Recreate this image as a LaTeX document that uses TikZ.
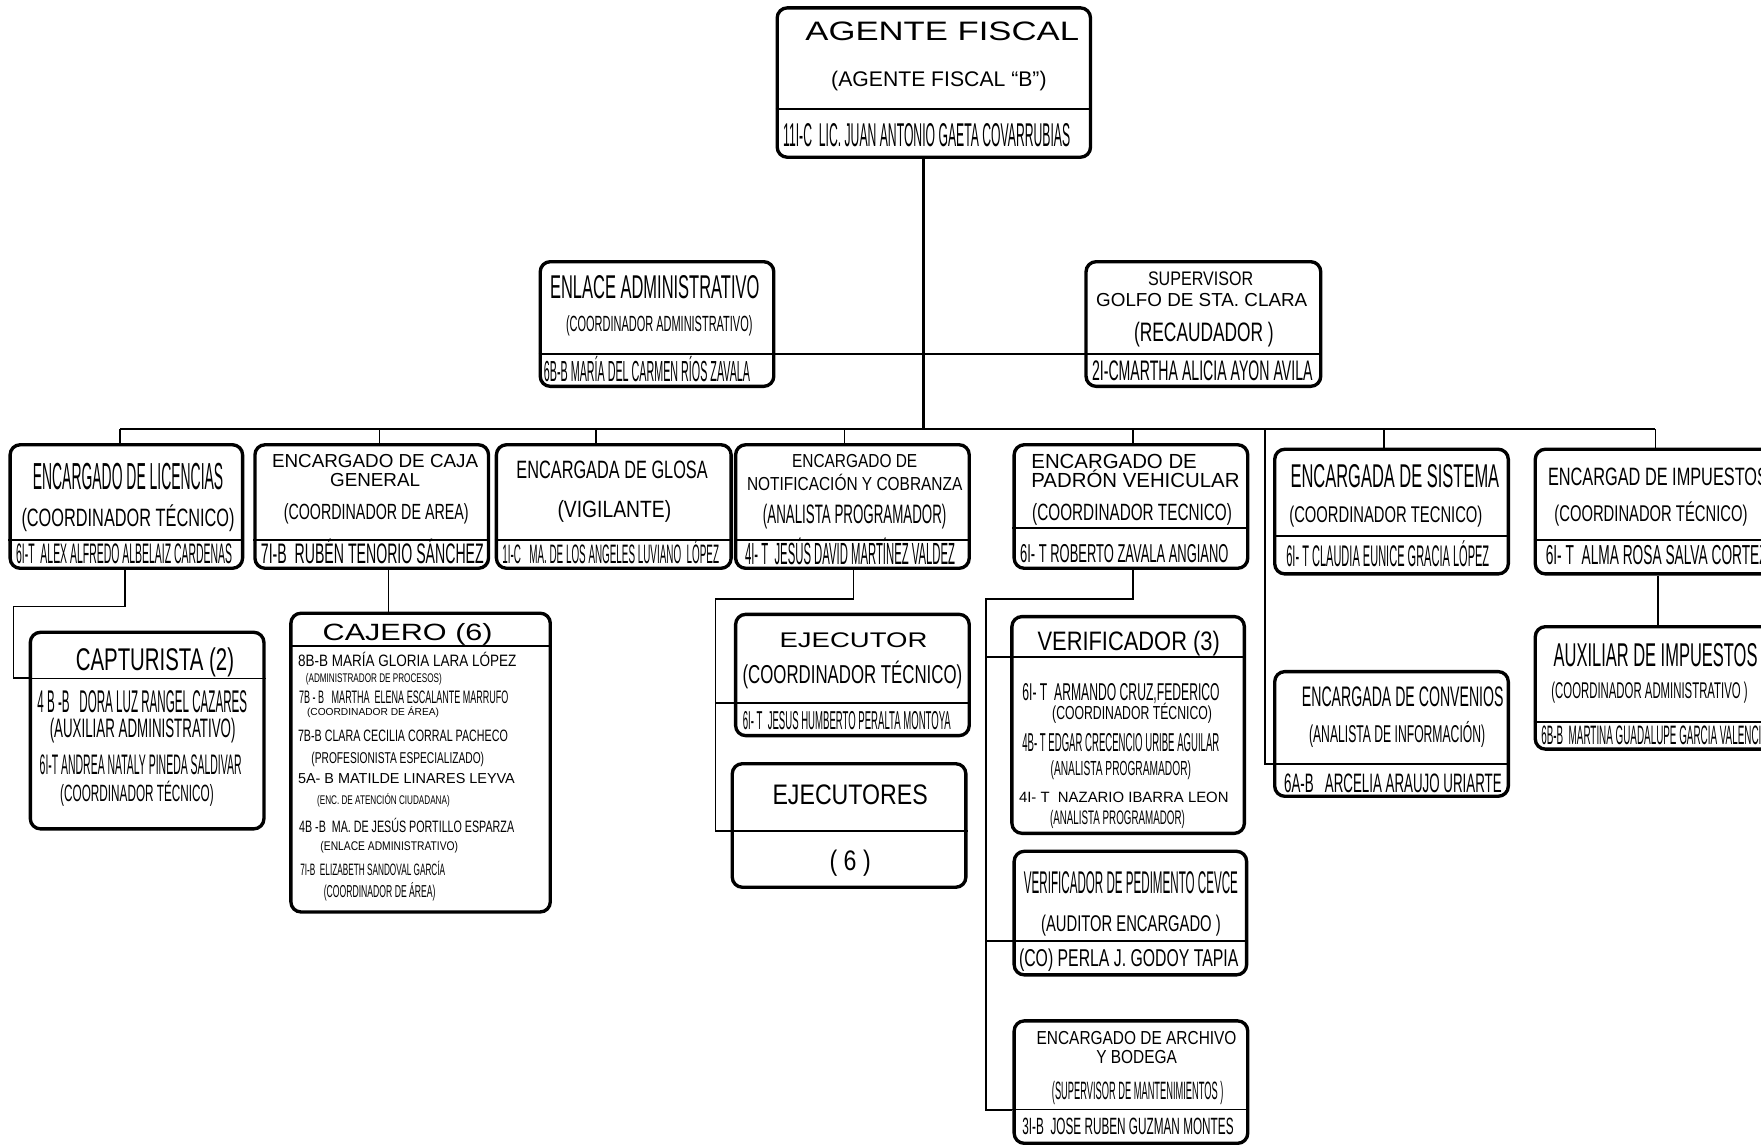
\documentclass[tikz,border=0pt]{standalone}
\usepackage{fontspec}
\setmainfont{Liberation Sans}
\newfontfamily\widefont[FakeStretch=1.3]{Liberation Sans}
\newfontfamily\semifont[FakeStretch=0.82]{Liberation Sans}
\newfontfamily\narrowfont[FakeStretch=0.65]{Liberation Sans}
\newfontfamily\condfont[FakeStretch=0.5]{Liberation Sans}
\newfontfamily\slimfont[FakeStretch=0.37]{Liberation Sans}
\newcommand\capsz[1]{\fontsize{\fpeval{#1*0.795}}{\fpeval{#1*0.95}}\selectfont}
\usetikzlibrary{fit}
\tikzset{
  box/.style={draw, line width=1.7pt, rounded corners=1.8mm, inner sep=0pt},
  div/.style={line width=0.8pt},
  link/.style={line width=0.9pt},
  trunk/.style={line width=1.6pt},
  txt/.style={inner sep=0pt, anchor=base, yshift=-#1*0.1mm},
  fwide/.style={txt=#1, font=\widefont\capsz{#1}},
  fnorm/.style={txt=#1, font=\capsz{#1}},
  fsemi/.style={txt=#1, font=\semifont\capsz{#1}},
  fnarrow/.style={txt=#1, font=\narrowfont\capsz{#1}},
  fcond/.style={txt=#1, font=\condfont\capsz{#1}},
  fslim/.style={txt=#1, font=\slimfont\capsz{#1}},
  lft/.style={anchor=base west},
}
\begin{document}
\begin{tikzpicture}[x=0.2mm, y=-0.2mm]
    \useasboundingbox (0,0) rectangle (1568,1020);
    \fill[white] (0,0) rectangle (1568,1020);
    %% boxes
    \foreach \b/\xa/\ya/\xb/\yb/\d in {
        agente/692/7/971/140/97, enlace/481/233/689/344/315, super/967/233/1176/344/315,
        lic/9/396/216/506/481, caja/227/396/435/506/481, glosa/442/396/651/506/481,
        notif/655/396/863/506/481, padron/903/396/1111/506/470, sistema/1135/400/1343/511/477,
        impuestos/1367/400/1590/511/481, capt/27/563/235/738/604, cajero/259/546/490/812/575,
        ejecutor/655/547/863/655/626, ejecutores/652/680/860/790/740, verif/901/549/1108/742/585,
        pedim/903/758/1110/868/838, archivo/903/909/1111/1018/988, convenios/1135/598/1343/709/680,
        auxiliar/1367/558/1590/667/643}
    {
        \node[box, fit={(\xa,\ya) (\xb,\yb)}] (\b) {};
        \draw[div] (\b.west |- 0,\d) -- (\b.east |- 0,\d);
    }
    %% agente fiscal
    \node[fwide=17] (a1) at (839,28) {AGENTE FISCAL};
    \node[fnorm=13.5] (a2) at (836,70) {(AGENTE FISCAL “B”)};
    \node[fslim=21, lft] (a3) at (697,120) {11I-C\ \ LIC. JUAN ANTONIO GAETA COVARRUBIAS};
    %% enlace and supervisor
    \node[fcond=21] (e1) at (583,255) {ENLACE ADMINISTRATIVO};
    \node[fcond=14] (e2) at (587,288) {(COORDINADOR ADMINISTRATIVO)};
    \node[fslim=18.5, lft] (e3) at (484,330) {6B-B MARÍA DEL CARMEN RÍOS ZAVALA};
    \node[fsemi=12.5] (s1) at (1069,248) {SUPERVISOR};
    \node[fnorm=12] (s2) at (1070,267) {GOLFO DE STA. CLARA};
    \node[fnarrow=17] (s3) at (1072,296) {(RECAUDADOR )};
    \node[fcond=18, lft] (s4) at (972,330) {2I-CMARTHA ALICIA AYON AVILA};
    %% row of encargados
    \node[fslim=24] (l1) at (114,424) {ENCARGADO DE LICENCIAS};
    \node[fnarrow=16] (l2) at (114,461) {(COORDINADOR TÉCNICO)};
    \node[fslim=18, lft] (l3) at (14,493) {6I-T\ \ ALEX ALFREDO ALBELAIZ CARDENAS};
    \node[fnorm=12] (c1) at (334,410) {ENCARGADO DE CAJA};
    \node[fnorm=12] (c2) at (334,427) {GENERAL};
    \node[fnarrow=14] (c3) at (335,456) {(COORDINADOR DE AREA)};
    \node[fcond=18, lft] (c4) at (232,493) {7I-B\ \ RUBÉN TENORIO SÁNCHEZ};
    \node[fnarrow=16] (g1) at (545,418) {ENCARGADA DE GLOSA};
    \node[fsemi=15] (g2) at (547,453) {(VIGILANTE)};
    \node[fslim=17, lft] (g3) at (447,493) {1I-C\ \ \ MA. DE LOS ANGELES LUVIANO\ \ LÓPEZ};
    \node[fsemi=12] (n1) at (761,410) {ENCARGADO DE};
    \node[fsemi=12] (n2) at (761,431) {NOTIFICACIÓN Y COBRANZA};
    \node[fcond=17] (n3) at (761,458) {(ANALISTA PROGRAMADOR)};
    \node[fslim=19.5, lft] (n4) at (663,493) {4I- T\ \ JESÚS DAVID MARTÍNEZ VALDEZ};
    \node[fnorm=13, lft] (p1) at (918,411) {ENCARGADO DE};
    \node[fnorm=13, lft] (p2) at (918,428) {PADRÓN VEHICULAR};
    \node[fnarrow=15] (p3) at (1008,456) {(COORDINADOR TECNICO)};
    \node[fcond=16.5, lft] (p4) at (908,493) {6I- T ROBERTO ZAVALA ANGIANO};
    \node[fcond=21] (y1) at (1242,424) {ENCARGADA DE SISTEMA};
    \node[fnarrow=14.5] (y2) at (1234,458) {(COORDINADOR TECNICO)};
    \node[fslim=19, lft] (y3) at (1145,495) {6I- T CLAUDIA EUNICE GRACIA LÓPEZ};
    \node[fnarrow=16, lft] (i1) at (1378,424) {ENCARGAD DE IMPUESTOS};
    \node[fnarrow=14.5] (i2) at (1470,457) {(COORDINADOR TÉCNICO)};
    \node[fcond=17.5, lft] (i3) at (1376,494) {6I- T\ \ ALMA ROSA SALVA CORTEZ};
    %% capturista
    \node[fnarrow=20] (k1) at (138,587) {CAPTURISTA (2)};
    \node[fslim=20, lft] (k2) at (33,624) {4 B -B\ \ \ DORA LUZ RANGEL CAZARES};
    \node[fcond=17] (k3) at (127,648) {(AUXILIAR ADMINISTRATIVO)};
    \node[fslim=18, lft] (k4) at (35,681) {6I-T ANDREA NATALY PINEDA SALDIVAR};
    \node[fcond=15] (k5) at (122,706) {(COORDINADOR TÉCNICO)};
    %% cajero
    \node[fwide=15] (j0) at (363,563) {CAJERO (6)};
    \node[fsemi=10.5, lft] (j1) at (265,588) {8B-B MARÍA GLORIA LARA LÓPEZ};
    \node[fnarrow=8, lft] (j2) at (272,604) {(ADMINISTRADOR DE PROCESOS)};
    \node[fcond=11.5, lft] (j3) at (266,621) {7B - B\ \ \ MARTHA\ \ ELENA ESCALANTE MARRUFO};
    \node[fnorm=6.5, lft] (j4) at (273,634) {(COORDINADOR DE ÁREA)};
    \node[fnarrow=10.5, lft] (j5) at (265,655) {7B-B CLARA CECILIA CORRAL PACHECO};
    \node[fnarrow=10, lft] (j6) at (277,675) {(PROFESIONISTA ESPECIALIZADO)};
    \node[fnorm=9.2, lft] (j7) at (265,693) {5A- B MATILDE LINARES LEYVA};
    \node[fnarrow=8, lft] (j8) at (282,712) {(ENC. DE ATENCIÓN CIUDADANA)};
    \node[fnarrow=10.5, lft] (j9) at (266,736) {4B -B\ \ MA. DE JESÚS PORTILLO ESPARZA};
    \node[fsemi=8, lft] (j10) at (285,753) {(ENLACE ADMINISTRATIVO)};
    \node[fcond=10.5, lft] (j11) at (267,774) {7I-B\ \ ELIZABETH SANDOVAL GARCÍA};
    \node[fcond=11, lft] (j12) at (288,794) {(COORDINADOR DE ÁREA)};
    %% ejecutores
    \node[fwide=13.5] (x1) at (760,570) {EJECUTOR};
    \node[fnarrow=16.5] (x2) at (759,600) {(COORDINADOR TÉCNICO)};
    \node[fslim=16.5, lft] (x3) at (661,641) {6I- T\ \ JESUS HUMBERTO PERALTA MONTOYA};
    \node[fsemi=18] (z1) at (757,707) {EJECUTORES};
    \node[fsemi=18] (z2) at (757,766) {( 6 )};
    %% verificadores
    \node[fsemi=17] (v0) at (1005,571) {VERIFICADOR (3)};
    \node[fcond=15.5, lft] (v1) at (910,616) {6I- T\ \ ARMANDO CRUZ,FEDERICO};
    \node[fnarrow=12] (v2) at (1008,635) {(COORDINADOR TÉCNICO)};
    \node[fslim=16.5, lft] (v3) at (910,661) {4B- T EDGAR CRECENCIO URIBE AGUILAR};
    \node[fcond=13] (v4) at (998,684) {(ANALISTA PROGRAMADOR)};
    \node[fnorm=9.5, lft] (v5) at (907,710) {4I- T\ \ NAZARIO IBARRA LEON};
    \node[fcond=12.5] (v6) at (995,728) {(ANALISTA PROGRAMADOR)};
    \node[fslim=20] (d1) at (1007,786) {VERIFICADOR DE PEDIMENTO CEVCE};
    \node[fnarrow=14.5] (d2) at (1007,822) {(AUDITOR ENCARGADO )};
    \node[fnarrow=15.5, lft] (d3) at (907,853) {(CO) PERLA J. GODOY TAPIA};
    \node[fsemi=12] (r1) at (1012,924) {ENCARGADO DE ARCHIVO};
    \node[fsemi=12] (r2) at (1012,941) {Y BODEGA};
    \node[fslim=16] (r3) at (1013,971) {(SUPERVISOR DE MANTENIMIENTOS )};
    \node[fcond=15, lft] (r4) at (910,1003) {3I-B\ \ JOSE RUBEN GUZMAN MONTES};
    %% convenios and auxiliar
    \node[fcond=18] (o1) at (1249,620) {ENCARGADA DE CONVENIOS};
    \node[fcond=15.5] (o2) at (1244,653) {(ANALISTA DE INFORMACIÓN)};
    \node[fcond=17, lft] (o3) at (1143,697) {6A-B\ \ \ ARCELIA ARAUJO URIARTE};
    \node[fcond=21, lft] (u1) at (1383,583) {AUXILIAR DE IMPUESTOS};
    \node[fcond=14.5, lft] (u2) at (1381,615) {(COORDINADOR ADMINISTRATIVO )};
    \node[fslim=17, lft] (u3) at (1372,654) {6B-B\ \ MARTINA GUADALUPE GARCIA VALENCIA};
    %% trunk and bus
    \coordinate (bus) at (822,382);
    \draw[trunk] (agente.south -| bus) -- (bus);
    \draw[link] (enlace.east |- 0,315) -- (super.west |- 0,315);
    \draw[link] (107,382) -- (1474,382);
    \foreach \b/\x in {lic/107, caja/338, glosa/531, notif/752, padron/1009, sistema/1232, impuestos/1474}
        \draw[link] (\x,382) -- (\b.north -| \x,0);
    \draw[link] (1126,382) |- (convenios.west |- 0,680);
    %% lower links
    \draw[link] (lic.south -| 111,0) |- (12,540) |- (capt.west |- 0,604);
    \draw[link] (caja.south -| 346,0) -- (cajero.north -| 346,0);
    \draw[link] (notif.south -| 760,0) |- (637,533) |- (ejecutores.west |- 0,740);
    \draw[link] (637,626) -- (ejecutor.west |- 0,626);
    \draw[link] (padron.south -| 1009,0) |- (878,533) |- (archivo.west |- 0,988);
    \draw[link] (878,585) -- (verif.west |- 0,585);
    \draw[link] (878,838) -- (pedim.west |- 0,838);
    \draw[link] (impuestos.south -| 1476,0) -- (auxiliar.north -| 1476,0);
\end{tikzpicture}
\end{document}
